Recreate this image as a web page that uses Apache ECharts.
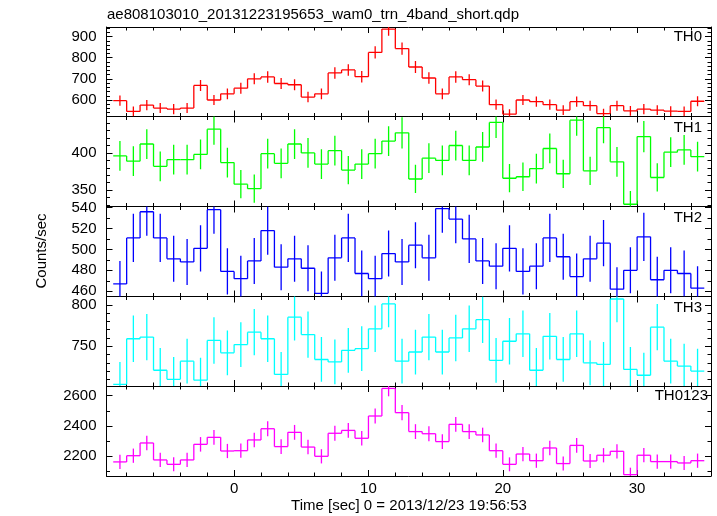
<!DOCTYPE html>
<html><head><meta charset="utf-8">
<script src="https://cdn.jsdelivr.net/npm/echarts@6/dist/echarts.min.js"></script>
<style>html,body{margin:0;padding:0;background:#fff}#c{width:717px;height:516px}</style>
</head><body><div id="c"></div>
<script>
// ---- data ----
const binCenters = [-8.5,-7.5,-6.5,-5.5,-4.5,-3.5,-2.5,-1.5,-0.5,0.5,1.5,2.5,3.5,4.5,5.5,6.5,7.5,8.5,9.5,10.5,11.5,12.5,
  13.5,14.5,15.5,16.5,17.5,18.5,19.5,20.5,21.5,22.5,23.5,24.5,25.5,26.5,27.5,28.5,29.5,30.5,31.5,32.5,33.5,34.5];
const th0 = [597,546,576,562,557,562,669,600,629,656,700,709,678,672,614,629,728,742,710,825,935,843,
  756,704,629,709,696,666,578,533,600,592,578,552,592,573,536,573,549,557,552,547,546,594];
const th0Err = [24,23,24,24,24,24,26,24,25,26,26,27,26,26,25,25,27,27,27,29,31,29,
  28,27,25,27,26,26,24,23,24,24,24,23,24,24,23,24,23,24,23,23,23,24];
const th1 = [396,389,412,382,391,391,398,432,387,358,352,399,386,412,400,385,403,377,385,399,416,427,
  365,393,390,410,390,408,441,366,368,379,406,372,444,376,434,388,331,422,367,401,404,395];
const th1Err = [20,20,20,20,20,20,20,21,20,19,19,20,20,20,20,20,20,19,20,20,20,21,
  19,20,20,20,20,20,21,19,19,20,20,19,21,19,21,20,18,21,19,20,20,20];
const th2 = [467,511,536,511,491,488,501,538,479,472,489,518,483,491,482,458,492,511,477,472,496,488,
  504,492,539,529,510,489,484,501,479,484,511,493,474,491,506,462,480,512,471,480,477,463];
const th2Err = [22,23,23,23,22,22,22,23,22,22,22,23,22,22,22,21,22,23,22,22,22,22,
  22,22,23,23,23,22,22,22,22,22,23,22,22,22,22,21,22,23,22,22,22,21];
const th3 = [704,759,761,721,710,732,709,757,742,752,767,759,716,785,764,734,731,745,747,771,801,732,
  743,761,743,760,771,782,733,756,765,721,762,734,765,730,728,807,722,715,773,732,726,720];
const th3Err = [27,28,28,27,27,27,27,28,27,27,28,28,27,28,28,27,27,27,27,28,28,27,
  27,28,27,28,28,28,27,28,28,27,28,27,28,27,27,28,27,27,28,27,27,27];
const th0123 = [2163,2204,2288,2176,2147,2176,2279,2325,2235,2237,2308,2382,2264,2358,2261,2200,2352,2371,2319,2466,2648,2488,
  2363,2349,2297,2411,2363,2341,2237,2147,2215,2171,2255,2152,2272,2169,2207,2233,2079,2207,2165,2165,2156,2171];
const th0123Err = [47,47,48,47,46,47,48,48,47,47,48,49,48,49,48,47,49,49,48,50,52,50,
  49,49,48,49,49,48,47,46,47,47,48,46,48,47,47,47,46,47,47,47,46,47];

const panelNames = ['TH0','TH1','TH2','TH3','TH0123'];
const panelValues = [th0, th1, th2, th3, th0123];
const panelErrors = [th0Err, th1Err, th2Err, th3Err, th0123Err];
const panelColors = ['#ff0000','#00ff00','#0000ff','#00ffff','#ff00ff'];
const yRanges = [[522,945],[328,449],[455,541],[702,810],[2070,2664]];
const yTickLabels = [[600,700,800,900],[350,400],[460,480,500,520,540],[750,800],[2200,2400,2600]];
const yMinorTicks = [
  [540,560,580,620,640,660,680,720,740,760,780,820,840,860,880,920,940],
  [330,340,360,370,380,390,410,420,430,440],
  [470,490,510,530],
  [710,720,730,740,760,770,780,790],
  [2100,2300,2500]
];
const xRange = [-9.5, 35.5];
const xTickLabels = [0,10,20,30];
const xMinorTicks = [-8,-6,-4,-2,2,4,6,8,12,14,16,18,22,24,26,28,32,34];

const titleText = 'ae808103010_20131223195653_wam0_trn_4band_short.qdp';
const xAxisTitle = 'Time [sec] 0 = 2013/12/23 19:56:53';
const yAxisTitle = 'Counts/sec';

// ---- layout ----
const FONT = '"Liberation Sans", Arial, Helvetica, sans-serif';
const gridLeft = 106.5, gridRight = 6;
const panelTops = [27, 116.5, 206.5, 296.5, 386];
const panelBottom = 476;
const plain = v => String(v);

const grids = [], xAxes = [], yAxes = [], series = [], graphics = [];
panelNames.forEach((name, i) => {
  const top = panelTops[i];
  const bottom = i < 4 ? panelTops[i+1] : panelBottom;
  grids.push({left: gridLeft, right: gridRight, top: top, height: bottom - top});
  const lineStyle = {color:'#000', width:1};
  const mkX = (pos, major, labels) => ({
    type:'value', gridIndex:i, min:xRange[0], max:xRange[1], position:pos,
    axisLine:{show:major, onZero:false, lineStyle},
    axisTick:{show:true, inside:true, length: major ? 6 : 3.5, lineStyle,
      customValues: major ? xTickLabels : xMinorTicks},
    axisLabel:{show: labels, customValues: xTickLabels, formatter: plain, margin:5, color:'#000', fontSize:15, fontFamily:FONT},
    splitLine:{show:false}
  });
  xAxes.push(mkX('bottom', true, i === 4));
  xAxes.push(mkX('bottom', false, false));
  xAxes.push(mkX('top', true, false));
  xAxes.push(mkX('top', false, false));
  const mkY = (pos, major, labels) => ({
    type:'value', gridIndex:i, min:yRanges[i][0], max:yRanges[i][1], position:pos,
    axisLine:{show:major, onZero:false, lineStyle},
    axisTick:{show:true, inside:true, length: major ? 6 : 3.5, lineStyle,
      customValues: major ? yTickLabels[i] : yMinorTicks[i]},
    axisLabel:{show: labels, customValues: yTickLabels[i], formatter: plain, margin:10, color:'#000', fontSize:15, fontFamily:FONT},
    splitLine:{show:false}
  });
  yAxes.push(mkY('left', true, true));
  yAxes.push(mkY('left', false, false));
  yAxes.push(mkY('right', true, false));
  yAxes.push(mkY('right', false, false));

  const vals = panelValues[i], errs = panelErrors[i];
  const data = binCenters.map((x, k) => [x, vals[k], errs[k], k > 0 ? vals[k-1] : vals[k]]);
  const color = panelColors[i];
  series.push({
    type:'custom', name, xAxisIndex: 4*i, yAxisIndex: 4*i, clip:true, silent:true,
    encode:{x:0, y:1},
    data,
    renderItem: (params, api) => {
      const x = api.value(0), y = api.value(1), e = api.value(2), p = api.value(3);
      const a = api.coord([x-0.5, y]), b = api.coord([x+0.5, y]);
      const t = api.coord([x, y+e]), u = api.coord([x, y-e]);
      const q = api.coord([x-0.5, p]);
      const st = {stroke: color, lineWidth: 1.3, fill: null};
      return {type:'group', children:[
        {type:'line', shape:{x1:a[0], y1:a[1], x2:b[0], y2:b[1]}, style:st},
        {type:'line', shape:{x1:t[0], y1:t[1], x2:u[0], y2:u[1]}, style:st},
        {type:'line', shape:{x1:a[0], y1:q[1], x2:a[0], y2:a[1]}, style:st}
      ]};
    }
  });
  const labelTopOffsets = [2, 3.5, 3.5, 3.5, 2];
  graphics.push({type:'text', x: i === 4 ? 708 : 702, y: top + labelTopOffsets[i], silent:true,
    style:{text:name, fill:'#000', font:'15px ' + FONT, align:'right', verticalAlign:'top'}});
});

graphics.push({type:'text', x:107, y:7, silent:true,
  style:{text:titleText, fill:'#000', font:'15px ' + FONT, align:'left', verticalAlign:'top'}});
graphics.push({type:'text', x:409, y:506, silent:true,
  style:{text:xAxisTitle, fill:'#000', font:'15px ' + FONT, align:'center', verticalAlign:'middle'}});
graphics.push({type:'text', x:42, y:251, rotation:Math.PI/2, silent:true,
  style:{text:yAxisTitle, fill:'#000', font:'15px ' + FONT, align:'center', verticalAlign:'middle'}});

const chart = echarts.init(document.getElementById('c'), null, {renderer:'canvas'});
chart.setOption({
  animation:false,
  backgroundColor:'#fff',
  grid: grids, xAxis: xAxes, yAxis: yAxes, series, graphic: graphics
});
</script></body></html>
